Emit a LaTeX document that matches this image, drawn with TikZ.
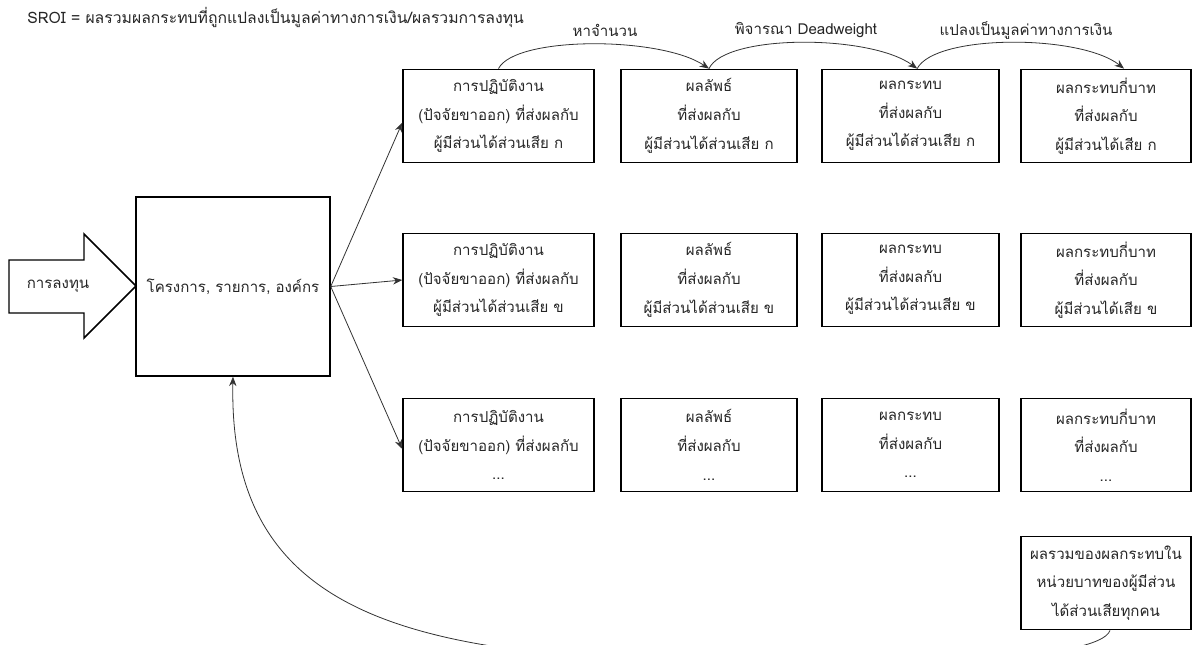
\documentclass[tikz,border=0pt]{standalone}
\usepackage{fontspec}
\newfontfamily\thaifont[Script=Thai]{Loma}
\usetikzlibrary{arrows.meta}
\newcommand\boxfont{\thaifont\fontsize{11.3}{21.5}\selectfont}
\newcommand\smallfont{\thaifont\fontsize{11.3}{14}\selectfont}
\newcommand\titlefont{\thaifont\fontsize{11.8}{14}\selectfont}
\colorlet{ink}{black!85}
\begin{document}
\begin{tikzpicture}[x=0.75pt,y=-0.75pt,
  box/.style={draw=black, line width=1.1pt, align=center, font=\boxfont, text=ink, inner sep=0pt},
  colA/.style={box, minimum width=143.25pt, minimum height=70pt},
  colB/.style={box, minimum width=132pt, minimum height=70pt},
  colC/.style={box, minimum width=132.75pt, minimum height=70pt},
  colD/.style={box, minimum width=127.5pt, minimum height=70pt},
  link/.style={draw=black!80, line width=0.6pt, -{Stealth[length=7pt,width=5.5pt]}},
  steplabel/.style={font=\smallfont, text=ink, inner sep=0pt},
]
\clip (0,0) rectangle (1200,644);
\fill[white] (0,0) rectangle (1200,644);

% formula
\node[font=\titlefont, text=ink, inner sep=0pt, anchor=west] (formula) at (27,17)
  {SROI = ผลรวมผลกระทบที่ถูกแปลงเป็นมูลค่าทางการเงิน/ผลรวมการลงทุน};

% investment arrow
\draw[line width=1.1pt, fill=white] (9,260) -- (84,260) -- (84,234) -- (136,286)
  -- (84,338) -- (84,313) -- (9,313) -- cycle;
\node[font=\boxfont, text=ink, inner sep=0pt] (invest) at (58,286) {การลงทุน};

% organisation box
\node[box, minimum width=145.5pt, minimum height=134.25pt] (org) at (233,286.5)
  {โครงการ, รายการ, องค์กร};

% stakeholder rows
\node[colA] (a1) at (498.5,116) {การปฏิบัติงาน\\(ปัจจัยขาออก) ที่ส่งผลกับ\\ผู้มีส่วนได้ส่วนเสีย ก};
\node[colB] (b1) at (709,116) {ผลลัพธ์\\ที่ส่งผลกับ\\ผู้มีส่วนได้ส่วนเสีย ก};
\node[colC] (c1) at (910.5,116) {ผลกระทบ\\ที่ส่งผลกับ\\ผู้มีส่วนได้ส่วนเสีย ก};
\node[colD] (d1) at (1106,116) {ผลกระทบกี่บาท\\ที่ส่งผลกับ\\ผู้มีส่วนได้เสีย ก};

\node[colA] (a2) at (498.5,280) {การปฏิบัติงาน\\(ปัจจัยขาออก) ที่ส่งผลกับ\\ผู้มีส่วนได้ส่วนเสีย ข};
\node[colB] (b2) at (709,280) {ผลลัพธ์\\ที่ส่งผลกับ\\ผู้มีส่วนได้ส่วนเสีย ข};
\node[colC] (c2) at (910.5,280) {ผลกระทบ\\ที่ส่งผลกับ\\ผู้มีส่วนได้ส่วนเสีย ข};
\node[colD] (d2) at (1106,280) {ผลกระทบกี่บาท\\ที่ส่งผลกับ\\ผู้มีส่วนได้เสีย ข};

\node[colA] (a3) at (498.5,445) {การปฏิบัติงาน\\(ปัจจัยขาออก) ที่ส่งผลกับ\\...};
\node[colB] (b3) at (709,445) {ผลลัพธ์\\ที่ส่งผลกับ\\...};
\node[colC] (c3) at (910.5,445) {ผลกระทบ\\ที่ส่งผลกับ\\...};
\node[colD] (d3) at (1106,445) {ผลกระทบกี่บาท\\ที่ส่งผลกับ\\...};

% total box
\node[box, minimum width=127.5pt, minimum height=70pt] (total) at (1106,583)
  {ผลรวมของผลกระทบใน\\หน่วยบาทของผู้มีส่วน\\ได้ส่วนเสียทุกคน};

% fan-out from the organisation
\draw[link] (org.east) -- ([yshift=-5pt]a1.west);
\draw[link] (org.east) -- (a2.west);
\draw[link] (org.east) -- ([yshift=-3pt]a3.west);

% step arcs along the top row
\draw[link] (a1.north) .. controls (515,36) and (660,36) .. (b1.north);
\draw[link] (b1.north) .. controls (725,34) and (870,34) .. ([xshift=5pt]c1.north);
\draw[link] ([xshift=5pt]c1.north) .. controls (935,34) and (1080,34) .. ([xshift=13.5pt]d1.north);

\node[steplabel] (lbl1) at (605,30) {หาจำนวน};
\node[steplabel] (lbl2) at (806,30) {พิจารณา Deadweight};
\node[steplabel] (lbl3) at (1026,30) {แปลงเป็นมูลค่าทางการเงิน};

% feedback from the total back to the organisation
\draw[link] ([xshift=3pt]total.south) .. controls (1100,660) and (900,668) .. (700,662)
  .. controls (400,655) and (228,610) .. (org.south);
\end{tikzpicture}
\end{document}
